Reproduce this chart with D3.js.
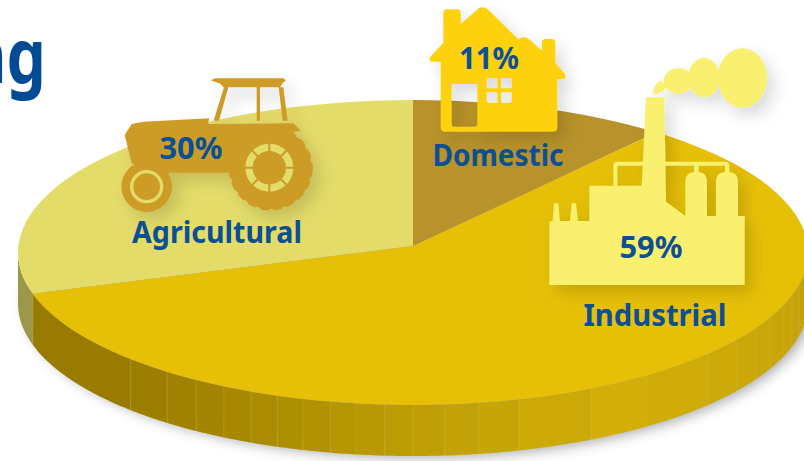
<!DOCTYPE html>
<html><head><meta charset="utf-8">
<script src="https://cdn.jsdelivr.net/npm/d3@7/dist/d3.min.js"></script>
<style>html,body{margin:0;padding:0;background:#fff;overflow:hidden}svg{display:block}text{font-family:"Noto Sans",sans-serif;font-weight:700;fill:#0b4f94}</style>
</head><body><svg id="c" width="804" height="461"></svg>
<script>
const categories = ["Agricultural","Domestic","Industrial"];
const shares = [30,11,59];
const shareLabels = ["30%","11%","59%"];
const sliceColours = ["#e4dc69","#b8922a","#e6c007"];
const seamDegrees = [-90,-74.2,-45.6,-38.5,-33.3,-28.6,-24.2,-20.1,-16.2,-12.1,-8.3,-4.1,0,4.6,9.5,15.6,26.8,36.3,48.3,55.1,60.2,64.7,69.5,73.6,77.7,90];
const titleFragment = "ng";

const W=804,H=461,cx=413,cy=252.5,rx=395,ry=152.5,depth=51,apexY=246;
const svg=d3.select("#c");
const defs=svg.append("defs");
defs.append("clipPath").attr("id","top").append("ellipse").attr("cx",cx).attr("cy",cy).attr("rx",rx).attr("ry",ry);
defs.append("filter").attr("id","blur").attr("x","-10%").attr("y","-20%").attr("width","120%").attr("height","140%")
  .append("feGaussianBlur").attr("stdDeviation",7);
const ds=defs.append("filter").attr("id","ds").attr("x","-30%").attr("y","-30%").attr("width","170%").attr("height","170%");
ds.append("feDropShadow").attr("dx",7).attr("dy",8).attr("stdDeviation",8).attr("flood-color","#000").attr("flood-opacity",.14);

// title fragment
svg.append("text").attr("transform","translate(46,83) scale(.82,1)").attr("text-anchor","end").attr("font-size",76).style("fill","#004b93").text(titleFragment);

// ground shadow
svg.append("ellipse").attr("cx",cx+6).attr("cy",cy+depth+1).attr("rx",rx-2).attr("ry",ry).attr("fill","#000").attr("opacity",.36).attr("filter","url(#blur)");

// side band
const rad=d=>d*Math.PI/180;
const colour=d3.scaleLinear().domain([-74,-46,-30,0,30,50,90]).range(["#967a00","#997c00","#a58500","#bd9e05","#d3ae08","#cdaa07","#c2a10a"]);
const band=d3.area().x(a=>cx+rx*Math.sin(rad(a))).y0(a=>cy+ry*Math.cos(rad(a))).y1(a=>cy+ry*Math.cos(rad(a))+depth);
const gSide=svg.append("g");
d3.pairs(seamDegrees).forEach(([a0,a1],i)=>{
  const pts=d3.range(a0,a1,0.5).concat([a1]);
  gSide.append("path").attr("d",band(pts)).attr("fill",i===0?"#9b9849":colour((a0+a1)/2));
  if(i>0) gSide.append("line").attr("x1",cx+rx*Math.sin(rad(a0))).attr("x2",cx+rx*Math.sin(rad(a0)))
    .attr("y1",cy+ry*Math.cos(rad(a0))).attr("y2",cy+ry*Math.cos(rad(a0))+depth).attr("stroke","#e6cf5a").attr("stroke-opacity",.3).attr("stroke-width",.7);
});

// pie top
const pie=d3.pie().sort(null).startAngle(rad(-108)).endAngle(rad(252));
const arc=d3.arc().innerRadius(0).outerRadius(rx*1.2);
svg.append("g").attr("clip-path","url(#top)")
  .append("g").attr("transform",`translate(${cx},${apexY}) scale(1,${ry/rx})`)
  .selectAll("path").data(pie(shares)).join("path").attr("d",arc).attr("fill",(d,i)=>sliceColours[i]);

// tractor
const TR="#cc9c27",AG=sliceColours[0];
const t=svg.append("g").attr("filter","url(#ds)").append("g").attr("transform","scale(.33333)");
t.append("path").attr("fill",TR).attr("d","M633 241L645 235H850L858 241L848 250L840 262H670L662 252Z M672 262H685L657 362H641Z M770 262H780V362H770Z M836 262H850L863 362H848Z");
t.append("path").attr("fill",TR).attr("d","M374 405L395 372L430 365L628 355L624 372L880 370L903 392L880 396L900 440L800 520L685 518H510L470 530L395 490Z");
t.append("circle").attr("cx",440).attr("cy",560).attr("r",76).attr("fill",TR);
t.append("circle").attr("cx",440).attr("cy",560).attr("r",45).attr("fill","none").attr("stroke",AG).attr("stroke-width",10);
t.append("circle").attr("cx",812).attr("cy",505).attr("r",123).attr("fill",TR);
t.append("circle").attr("cx",812).attr("cy",505).attr("r",124).attr("fill","none").attr("stroke",TR).attr("stroke-width",5).attr("stroke-dasharray","26 14");
const spokes=d3.range(8).map(i=>i*45);
const ringArc=d3.arc().innerRadius(50).outerRadius(72).padAngle(0.07);
t.append("g").attr("transform","translate(808,503)").selectAll("path").data(spokes).join("path")
  .attr("fill",AG).attr("d",a=>ringArc({startAngle:rad(a),endAngle:rad(a+45)}));

// house
const h=svg.append("g").attr("filter","url(#ds)").append("g").attr("transform","translate(400,0) scale(.33333)");
h.append("path").attr("fill","#fdd10b").attr("fill-rule","evenodd").attr("d",
 "M130 40Q130 28 142 28H170Q182 28 182 40V72L228 32Q247 12 268 32L355 118Q372 105 390 120L426 152V128Q426 117 437 117H455Q466 117 466 128V188L495 222Q500 236 490 237H472V380Q472 395 458 395H135Q122 395 122 380V185H95Q85 180 90 172L130 128Z"+
 "M163 252H224Q232 252 232 260V372Q232 380 224 380H163Q155 380 155 372V260Q155 252 163 252Z"+
 "M266 234H292V265H260V240Q260 234 266 234Z M303 234H329Q335 234 335 240V265H303Z M260 277H292V308H266Q260 308 260 302Z M303 277H335V302Q335 308 329 308H303Z");

// factory
const FA="#faf06f";
const f=svg.append("g").attr("filter","url(#ds)").append("g").attr("transform","translate(400,0) scale(.33333)").attr("fill",FA);
f.append("path").attr("d","M448 855V665L458 663L462 610H475L480 663H510L515 610H528L534 663H568V557H725L738 292H793L798 605L856 648V545Q856 515 888 515Q921 515 921 545V648H948V545Q948 515 981 515Q1014 515 1014 545V648H1034V855Z");
f.append("path").attr("d","M640 557V497Q640 485 652 485H975Q988 485 988 497V520H975V497H896V520H882V497H652V557Z");
f.append("path").attr("d","M760 284Q757 260 778 242Q795 245 798 262Q790 280 760 284Z");
f.append("ellipse").attr("cx",835).attr("cy",243).attr("rx",44).attr("ry",38);
f.append("ellipse").attr("cx",912).attr("cy",233).attr("rx",47).attr("ry",59);
f.append("ellipse").attr("cx",1027).attr("cy",234).attr("rx",74).attr("ry",89);

// labels
const nameAt=[[217,243,170,31],[498,166,131,31],[655,326,143,31]];
const pctAt=[[191,159,63,31],[489,69,60,31],[651,258,63,31]];
svg.append("g").selectAll("text").data(categories).join("text")
 .attr("x",(d,i)=>nameAt[i][0]).attr("y",(d,i)=>nameAt[i][1]).attr("text-anchor","middle")
 .attr("font-size",(d,i)=>nameAt[i][3]).attr("textLength",(d,i)=>nameAt[i][2]).attr("lengthAdjust","spacingAndGlyphs").text(d=>d);
svg.append("g").selectAll("text").data(shareLabels).join("text")
 .attr("x",(d,i)=>pctAt[i][0]).attr("y",(d,i)=>pctAt[i][1]).attr("text-anchor","middle")
 .attr("font-size",(d,i)=>pctAt[i][3]).attr("textLength",(d,i)=>pctAt[i][2]).attr("lengthAdjust","spacingAndGlyphs").text(d=>d);
</script></body></html>
